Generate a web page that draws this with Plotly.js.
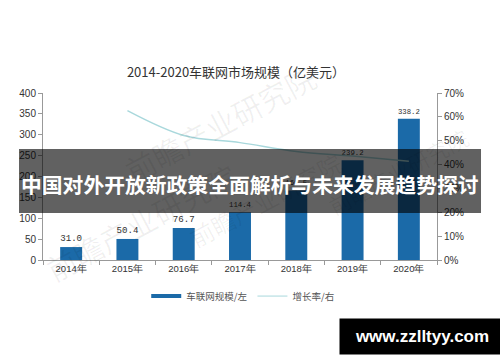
<!DOCTYPE html>
<html>
<head>
<meta charset="utf-8">
<script src="https://cdn.plot.ly/plotly-3.0.1.min.js"></script>
<style>html,body{margin:0;padding:0;background:#fff;}#chart{width:500px;height:362px;}</style>
</head>
<body>
<div id="chart"></div>
<script>
const years = ['2014年','2015年','2016年','2017年','2018年','2019年','2020年'];
const marketSize = [31.0, 50.4, 76.7, 114.4, 166.5, 239.2, 338.2];
const growthYears = ['2015年','2016年','2017年','2018年','2019年','2020年'];
const growthRate = [62.6, 52.2, 49.2, 45.5, 43.6, 41.4];
const sizeLabels = ['31.0','50.4','76.7','114.4','166.5','239.2','338.2'];
const titleText = '2014-2020车联网市场规模（亿美元）';
const bannerText = '中国对外开放新政策全面解析与未来发展趋势探讨';
const siteText = 'www.zzlltyy.com';
const seriesNames = ['车联网规模/左', '增长率/右'];

const blue = '#1b6aa8';
const teal = '#a9d8dc';
const tickFont = {family: 'Liberation Sans, Arial, sans-serif', size: 10, color: '#333'};
const cjk = 'Noto Sans CJK SC, sans-serif';

const traces = [
  {type: 'bar', x: years, y: marketSize, marker: {color: blue}, width: 0.39,
   text: sizeLabels, textposition: 'outside', cliponaxis: false,
   textfont: {family: 'Liberation Mono, monospace', size: 10, color: '#333'},
   showlegend: false, hoverinfo: 'skip'},
  {type: 'scatter', mode: 'lines', x: growthYears, y: growthRate, yaxis: 'y2',
   line: {color: teal, width: 1.5, shape: 'spline', smoothing: 1},
   showlegend: false, hoverinfo: 'skip'},
  {type: 'scatter', mode: 'lines', x: [null], y: [null], name: seriesNames[0],
   line: {color: blue, width: 4}},
  {type: 'scatter', mode: 'lines', x: [null], y: [null], name: seriesNames[1], yaxis: 'y2',
   line: {color: teal, width: 1}}
];

const wm = (x, y, size) => ({xref: 'paper', yref: 'paper', x: x, y: y, text: '前瞻产业研究院',
  showarrow: false, textangle: -28, font: {family: cjk, size: size, color: 'rgba(0,0,0,0.06)'}});

const layout = {
  width: 500, height: 362,
  margin: {l: 43, r: 63, t: 93, b: 102, pad: 0},
  paper_bgcolor: '#fff', plot_bgcolor: 'rgba(0,0,0,0)',
  title: {text: titleText, x: 0.472, xanchor: 'center', y: 0.801, yanchor: 'middle',
          font: {family: cjk, size: 13, color: '#333'}},
  bargap: 0.6,
  xaxis: {type: 'category', range: [-0.5, 6.5], showline: true, linecolor: '#999', linewidth: 1,
          ticks: 'outside', tickson: 'boundaries', ticklen: 4, tickcolor: '#999',
          tickfont: {family: 'Liberation Sans, Arial, sans-serif', size: 9.5, color: '#333'},
          showgrid: false, zeroline: false, fixedrange: true},
  yaxis: {range: [0, 400], dtick: 50, showline: true, linecolor: '#999', linewidth: 1,
          ticks: 'outside', ticklen: 4, tickcolor: '#999', tickfont: tickFont,
          showgrid: false, zeroline: false},
  yaxis2: {overlaying: 'y', side: 'right', range: [0, 70], dtick: 10, ticksuffix: '%',
           showline: true, linecolor: '#999', linewidth: 1, ticks: 'outside', ticklen: 4,
           tickcolor: '#999', tickfont: tickFont, showgrid: false, zeroline: false},
  showlegend: true,
  legend: {orientation: 'h', x: 0.262, xanchor: 'left', y: -0.216, yanchor: 'middle',
           font: {family: cjk, size: 9.5, color: '#555'}, bgcolor: 'rgba(0,0,0,0)',
           itemwidth: 30, tracegroupgap: 0},
  shapes: [
    {type: 'rect', xref: 'paper', yref: 'paper', x0: -0.0609, x1: 1.1117, y0: 0.281, y1: 0.665,
     fillcolor: 'rgba(0,0,0,0.62)', line: {width: 0}, layer: 'above'}
  ],
  annotations: [
    wm(0.45, 1.25, 30), wm(-0.02, -0.2, 30), wm(0.78, 0.02, 24), wm(1.1, 0.85, 22),
    {xref: 'paper', yref: 'paper', x: 0.525, y: 0.455, xanchor: 'center', yanchor: 'middle',
     text: '<b>' + bannerText + '</b>', showarrow: false,
     font: {family: cjk, size: 20.8, color: '#fff'}},
    {xref: 'paper', yref: 'paper', x: 1.1726, y: -0.461, xanchor: 'right', yanchor: 'middle',
     text: '<b>' + siteText + '</b>', showarrow: false, bgcolor: '#000',
     width: 160, height: 31, align: 'center',
     font: {family: 'Liberation Sans, Arial, sans-serif', size: 17, color: '#fff'},
     borderpad: 2}
  ]
};

Plotly.newPlot('chart', traces, layout, {staticPlot: true, displayModeBar: false});
</script>
</body>
</html>
